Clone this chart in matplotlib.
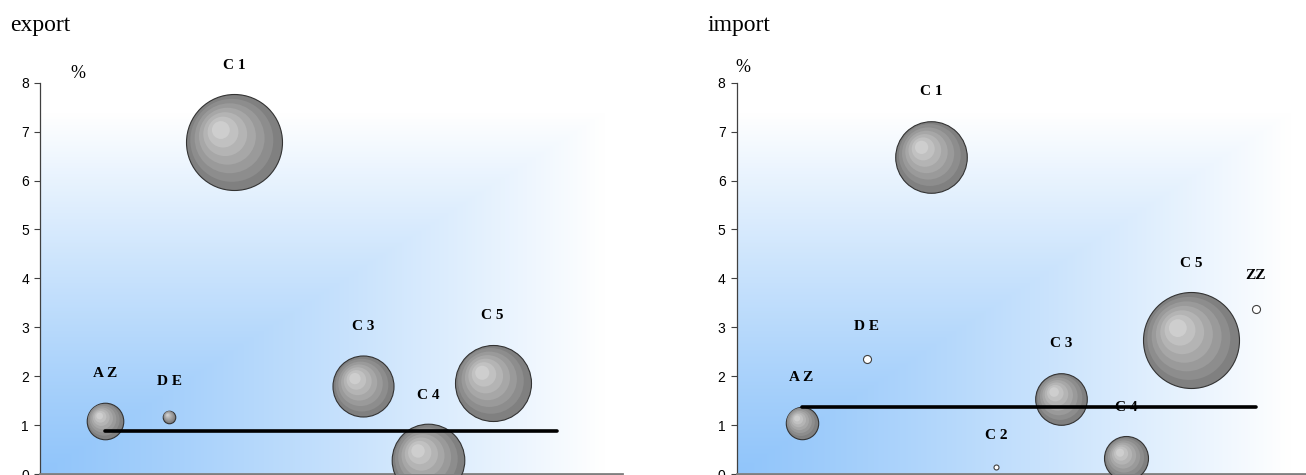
import numpy as np
import matplotlib.pyplot as plt
from matplotlib.transforms import ScaledTranslation

# categories on the x axis (position 1..8)
labels = ["A Z", "D E", "C 1", "C 2", "C 3", "C 4", "C 5", "ZZ"]
x_pos = [1, 2, 3, 4, 5, 6, 7, 8]

# export: y value (%) and bubble size (negative -> hollow bubble)
export_y = [1.09, 1.17, 6.78, np.nan, 1.79, 0.28, 1.87, np.nan]
export_size = [14.5, 1.7, 100, 0, 40.4, 57.2, 62.7, 0]
export_avg = 0.885

# import
import_y = [1.05, 2.35, 6.49, 0.15, 1.54, 0.32, 2.73, 3.38]
import_size = [11.4, -0.7, 55.6, -0.27, 28.9, 21.0, 100, -0.7]
import_avg = 1.376

W, H, DPI = 1306, 475, 100
MAX_R = 48  # radius in px of the biggest bubble


def gradient(ax):
    u = np.linspace(0, 1, 400)[None, :]
    v = np.linspace(0, 1, 400)[:, None]
    t = np.clip(np.maximum(u / 0.97, v / 0.92), 0, 1) ** 1.15
    blue = np.array([145, 197, 250]) / 255
    white = np.array([1.0, 1.0, 1.0])
    img = blue[None, None, :] * (1 - t[..., None]) + white * t[..., None]
    ax.imshow(img, extent=[0, 1, 0, 1], transform=ax.transAxes, origin='lower',
              aspect='auto', zorder=0, interpolation='bilinear')


def bubble(fig, ax, x, y, r, hollow):
    pt = 72 / DPI
    if hollow:
        ax.scatter([x], [y], s=(2 * r * pt) ** 2, facecolor='white',
                   edgecolors='#404040', linewidths=0.8, zorder=3)
        return
    n = 7
    for i in range(n):
        f = i / n
        rr = r * (1 - 0.95 * f)
        dx, dy = -0.32 * r * f, 0.30 * r * f
        trans = ax.transData + ScaledTranslation(dx / DPI, dy / DPI, fig.dpi_scale_trans)
        g = 0.50 + 0.36 * f
        ax.scatter([x], [y], s=(2 * rr * pt) ** 2, color=(g, g, g),
                   edgecolors='#333333' if i == 0 else 'none',
                   linewidths=0.8 if i == 0 else 0,
                   transform=trans, zorder=3 + i * 0.01)


def panel(fig, rect, xmax, ys, sizes, avg, title, title_x, pct_xy):
    ax = fig.add_axes(rect)
    gradient(ax)
    smax = max(abs(s) for s in sizes)
    for x, y, s, lab in zip(x_pos, ys, sizes, labels):
        if np.isnan(y) or s == 0:
            continue
        r = MAX_R * np.sqrt(abs(s) / smax)
        bubble(fig, ax, x, y, r, s < 0)
        ax.annotate(lab, (x, y), xytext=(0, r + 29), textcoords='offset pixels',
                    ha='center', va='center', fontsize=11, fontweight='bold',
                    family='Liberation Serif', zorder=2.5)
    ax.plot([x_pos[0], x_pos[-1]], [avg, avg], color='black', lw=2.6,
            solid_capstyle='round', zorder=6)

    ax.set_xlim(0, xmax)
    ax.set_ylim(0, 8)
    ax.set_yticks(range(0, 9))
    ax.set_xticks([])
    for lab in ax.get_yticklabels():
        lab.set_family('Liberation Sans')
        lab.set_fontsize(10)
    ax.tick_params(axis='y', length=4, width=0.8, color='#404040', pad=4)
    ax.spines['top'].set_visible(False)
    ax.spines['right'].set_visible(False)
    ax.spines['left'].set_color('#404040')
    ax.spines['left'].set_linewidth(0.9)
    ax.spines['bottom'].set_color('#7f7f7f')
    ax.spines['bottom'].set_linewidth(2)

    fig.text(title_x / W, 1 - 31.5 / H, title, family='Liberation Serif',
             fontsize=17, va='baseline', ha='left')
    fig.text(pct_xy[0] / W, 1 - pct_xy[1] / H, '%', family='Liberation Serif',
             fontsize=13, ha='center', va='center')
    return ax


def main():
    fig = plt.figure(figsize=(W / DPI, H / DPI), dpi=DPI)
    bottom = 1 / H
    top = 1 - 82.7 / H
    panel(fig, [40 / W, bottom, 582 / W, top - bottom], 9.0,
          export_y, export_size, export_avg, 'export', 10.5, (78, 73))
    panel(fig, [736.7 / W, bottom, (W - 736.7) / W, top - bottom], (W - 736.7) / 64.9,
          import_y, import_size, import_avg, 'import', 707, (743, 67))
    fig.savefig('out.png', dpi=DPI)


if __name__ == '__main__':
    main()
